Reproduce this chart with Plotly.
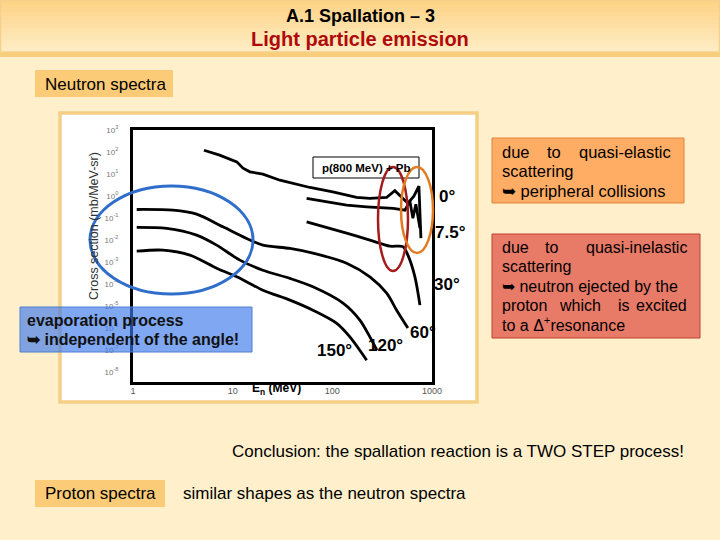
import plotly.graph_objects as go

# ---------------- data ----------------
angles = ["0°", "7.5°", "30°", "60°", "120°", "150°"]

E_0 = [5.15, 7.4, 11.0, 12.7, 14.9, 20.1, 29.8, 59.6, 101, 175, 238, 350, 424, 496, 573, 658, 739, 774]
S_0 = [120, 71.6, 35.5, 18.4, 12.5, 9.8, 5.2, 2.43, 1.53, 0.855, 0.77, 0.855, 1.74, 0.91, 0.47, 0.98, 2.79, 0.0121]

E_7 = [55.2, 139, 221, 408, 535, 600, 643, 689, 757]
S_7 = [0.77, 0.38, 0.32, 0.27, 0.226, 0.58, 0.098, 0.42, 0.034]

E_30 = [55.2, 139, 238, 378, 511, 573, 674, 757]
S_30 = [0.0665, 0.0204, 0.0098, 0.0052, 0.00496, 0.00204, 0.00021, 1.09e-5]

E_60 = [1.09, 2.52, 4.35, 8.0, 13.8, 20.1, 37.6, 63.9, 139, 238, 351, 442, 573]
S_60 = [0.243, 0.226, 0.149, 0.0394, 0.0117, 0.0058, 0.0041, 0.0025, 8.8e-4, 2.1e-4, 3.8e-5, 6.4e-6, 9.8e-7]

E_120 = [1.09, 2.18, 4.35, 6.91, 11.8, 20.1, 37.6, 63.9, 128, 189, 238, 280]
S_120 = [0.037, 0.0333, 0.0165, 0.0058, 0.00121, 4.2e-4, 1.78e-4, 7.4e-5, 1.34e-5, 2.26e-6, 3.9e-7, 9.8e-8]

E_150 = [1.09, 2.0, 3.73, 6.91, 11.0, 20.1, 37.6, 63.9, 110, 150, 221]
S_150 = [0.0031, 0.00344, 0.00204, 5.2e-4, 2.1e-4, 5.2e-5, 1.84e-5, 6.4e-6, 1.65e-6, 3.9e-7, 3.4e-8]

y_tickvals = [1e3, 1e2, 1e1, 1e0, 1e-1, 1e-2, 1e-3, 1e-4, 1e-5, 1e-6, 1e-7, 1e-8]
y_ticktext = ["10<sup>3</sup>", "10<sup>2</sup>", "10<sup>1</sup>", "10<sup>0</sup>", "10<sup>-1</sup>",
              "10<sup>-2</sup>", "10<sup>-3</sup>", "10<sup>-4</sup>", "10<sup>-5</sup>", "10<sup>-6</sup>",
              "10<sup>-7</sup>", "10<sup>-8</sup>"]
x_tickvals = [1, 10, 100, 1000]
x_ticktext = ["1", "10", "100", "1000"]

# ---------------- layout helpers ----------------
W, H = 720, 540
L, R, T, B = 133, 432, 130, 382  # plot area in pixels


def X(px):
    return (px - L) / (R - L)


def Y(py):
    return (B - py) / (B - T)


FONT = "Liberation Sans, Arial, sans-serif"
BG = "#FFEFCB"

fig = go.Figure()

series = [(E_0, S_0, "linear"), (E_7, S_7, "linear"), (E_30, S_30, "spline"),
          (E_60, S_60, "spline"), (E_120, S_120, "spline"), (E_150, S_150, "spline")]
for (e, s, shp), name in zip(series, angles):
    fig.add_trace(go.Scatter(x=e, y=s, mode="lines", name=name,
                             line=dict(color="black", width=2.8, shape=shp, smoothing=0.8),
                             showlegend=False, hoverinfo="skip"))

shapes = []
# title bar gradient
top_c = (253, 211, 134)
bot_c = (255, 236, 196)
n = 13
for i in range(n):
    t = i / (n - 1)
    c = tuple(int(round(top_c[k] + (bot_c[k] - top_c[k]) * t)) for k in range(3))
    shapes.append(dict(type="rect", xref="paper", yref="paper",
                       x0=X(0), x1=X(720), y0=Y(i * 4), y1=Y(i * 4 + 4.5),
                       fillcolor="rgb(%d,%d,%d)" % c, line=dict(width=0), layer="below"))
shapes.append(dict(type="rect", xref="paper", yref="paper", x0=X(0), x1=X(720), y0=Y(52), y1=Y(57),
                   fillcolor="#F8CD7C", line=dict(width=0), layer="below"))
shapes.append(dict(type="rect", xref="paper", yref="paper", x0=X(0.5), x1=X(719.5), y0=Y(52), y1=Y(0.5),
                   fillcolor="rgba(0,0,0,0)", line=dict(width=1.5, color="#F6CF88"), layer="below"))
# label boxes
shapes.append(dict(type="rect", xref="paper", yref="paper", x0=X(35), x1=X(173), y0=Y(97), y1=Y(70),
                   fillcolor="#FBCB77", line=dict(width=0), layer="below"))
shapes.append(dict(type="rect", xref="paper", yref="paper", x0=X(35), x1=X(165), y0=Y(507), y1=Y(480),
                   fillcolor="#FBCB77", line=dict(width=0), layer="below"))
# white chart frame
shapes.append(dict(type="rect", xref="paper", yref="paper", x0=X(60), x1=X(477), y0=Y(402), y1=Y(113),
                   fillcolor="white", line=dict(width=3.5, color="#F5CF86"), layer="below"))
# p(800 MeV)+Pb box
shapes.append(dict(type="rect", xref="paper", yref="paper", x0=X(313), x1=X(419), y0=Y(178), y1=Y(157),
                   fillcolor="white", line=dict(width=1, color="black"), layer="above"))
# ellipses
shapes.append(dict(type="circle", xref="paper", yref="paper", x0=X(90), x1=X(253), y0=Y(294), y1=Y(186),
                   line=dict(width=3, color="#2F6ECB"), layer="above"))
shapes.append(dict(type="circle", xref="paper", yref="paper", x0=X(378), x1=X(408), y0=Y(271), y1=Y(167),
                   line=dict(width=2.5, color="#A51C1C"), layer="above"))
shapes.append(dict(type="circle", xref="paper", yref="paper", x0=X(401), x1=X(433), y0=Y(253), y1=Y(167),
                   line=dict(width=2.5, color="#E27B22"), layer="above"))
# evaporation box (translucent blue)
shapes.append(dict(type="rect", xref="paper", yref="paper", x0=X(20), x1=X(252), y0=Y(352), y1=Y(307),
                   fillcolor="rgba(60,120,235,0.65)", line=dict(width=1, color="#4F7FD0"), layer="above"))
# orange and red explanation boxes
shapes.append(dict(type="rect", xref="paper", yref="paper", x0=X(492), x1=X(684), y0=Y(203), y1=Y(138),
                   fillcolor="#FFAC64", line=dict(width=1, color="#E2843A"), layer="above"))
shapes.append(dict(type="rect", xref="paper", yref="paper", x0=X(492), x1=X(700), y0=Y(338), y1=Y(234),
                   fillcolor="#E87A68", line=dict(width=1, color="#C0402F"), layer="above"))

ann = []


def txt(text, px, py, size=17, color="black", bold=False, xanchor="left", angle=0, fam=FONT):
    if bold:
        text = "<b>" + text + "</b>"
    ann.append(dict(text=text, x=X(px), y=Y(py), xref="paper", yref="paper", showarrow=False,
                    xanchor=xanchor, yanchor="middle", textangle=angle,
                    font=dict(family=fam, size=size, color=color)))


# titles
txt("A.1 Spallation – 3", 360, 16, size=18, bold=True, xanchor="center")
txt("Light particle emission", 360, 39, size=20, bold=True, xanchor="center", color="#B00A0A")
txt("Neutron spectra", 43, 84, size=17)

# chart texts
txt("Cross section (mb/MeV-sr)", 94, 226, size=12.5, color="#333333", angle=-90, xanchor="center")
txt("E<sub>n</sub> (MeV)", 276, 389, size=12, bold=True, xanchor="center")
txt("p(800 MeV) + Pb", 366, 167.5, size=11.5, bold=True, xanchor="center")
txt("0°", 447, 196, size=17, bold=True, xanchor="center")
txt("7.5°", 450, 232, size=17, bold=True, xanchor="center")
txt("30°", 447, 284, size=17, bold=True, xanchor="center")
txt("60°", 423, 332, size=17, bold=True, xanchor="center")
txt("120°", 385, 345, size=17, bold=True, xanchor="center")
txt("150°", 334, 350, size=17, bold=True, xanchor="center")

# evaporation box text
txt("evaporation process", 25, 320, size=16, bold=True, color="#111111")
txt("➥ independent of the angle!", 25, 339.5, size=16, bold=True, color="#111111")

# orange box (justified lines)
txt("due", 500, 152, size=16.5)
txt("to", 545, 152, size=16.5)
txt("quasi-elastic", 673, 152, size=16.5, xanchor="right")
txt("scattering", 500, 171, size=16.5)
txt("➥ peripheral collisions", 500, 191, size=16.5)

# red box
RS = 16
txt("due", 500, 247.5, size=RS)
txt("to", 543, 247.5, size=RS)
txt("quasi-inelastic", 689, 247.5, size=RS, xanchor="right")
txt("scattering", 500, 266.5, size=RS)
txt("➥ neutron ejected by the", 500, 286, size=RS)
txt("proton", 500, 305, size=RS)
txt("which", 557, 305, size=RS)
txt("is", 616, 305, size=RS)
txt("excited", 689, 305, size=RS, xanchor="right")
txt("to a Δ<sup>+</sup>resonance", 500, 324, size=RS)

# bottom texts
txt("Conclusion: the spallation reaction is a TWO STEP process!", 230, 451, size=17)
txt("Proton spectra", 43, 493.5, size=17)
txt("similar shapes as the neutron spectra", 181, 493.5, size=17)

fig.update_layout(
    width=W, height=H,
    margin=dict(l=L, r=W - R, t=T, b=H - B, pad=0),
    paper_bgcolor=BG, plot_bgcolor="white",
    shapes=shapes, annotations=ann, showlegend=False,
    font=dict(family=FONT),
)
fig.update_xaxes(type="log", range=[0, 3.0], tickvals=x_tickvals, ticktext=x_ticktext,
                 showgrid=False, zeroline=False, showline=True, mirror=True, linewidth=3,
                 linecolor="black", ticks="", ticklabelstandoff=-2,
                 tickfont=dict(size=9, color="#555555", family=FONT))
fig.update_yaxes(type="log", range=[-8.46, 3.0], tickvals=y_tickvals, ticktext=y_ticktext,
                 showgrid=False, zeroline=False, showline=True, mirror=True, linewidth=3,
                 linecolor="black", ticks="outside", ticklen=10, tickcolor="rgba(0,0,0,0)",
                 tickfont=dict(size=8, color="#777777", family=FONT))

fig.write_html("out.html", config={"displayModeBar": False},
               post_script="document.body.style.margin='0';document.body.style.overflow='hidden';")
